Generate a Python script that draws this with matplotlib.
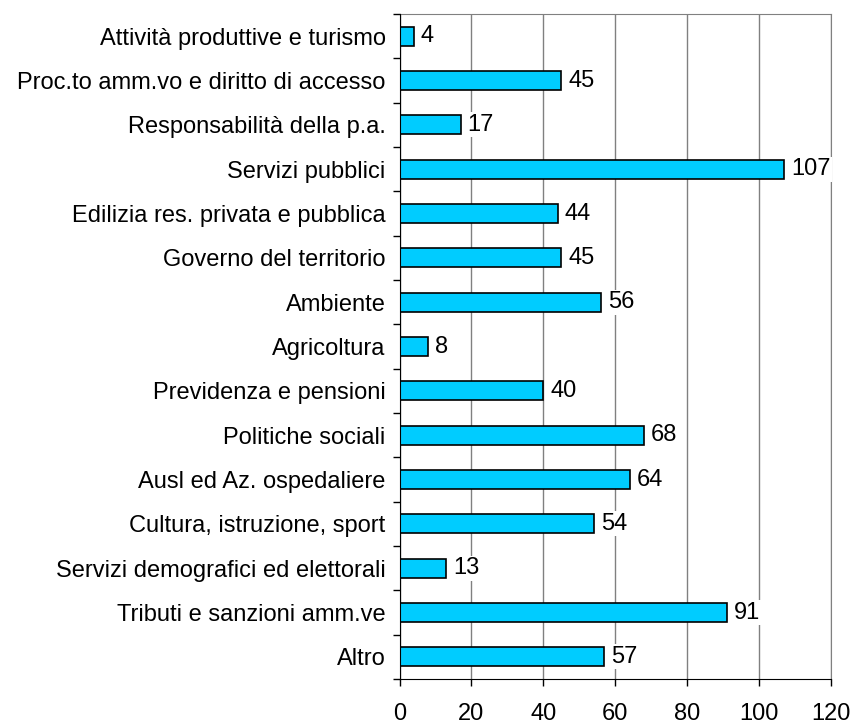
import matplotlib.pyplot as plt
import numpy as np

plt.rcParams['font.family'] = ['Liberation Sans', 'DejaVu Sans']

categorie = ['Attività produttive e turismo', 'Proc.to amm.vo e diritto di accesso',
             'Responsabilità della p.a.', 'Servizi pubblici',
             'Edilizia res. privata e pubblica', 'Governo del territorio',
             'Ambiente', 'Agricoltura', 'Previdenza e pensioni',
             'Politiche sociali', 'Ausl ed Az. ospedaliere',
             'Cultura, istruzione, sport', 'Servizi demografici ed elettorali',
             'Tributi e sanzioni amm.ve', 'Altro']
valori = [4, 45, 17, 107, 44, 45, 56, 8, 40, 68, 64, 54, 13, 91, 57]
xticks = [0, 20, 40, 60, 80, 100, 120]

fig = plt.figure(figsize=(8.54, 7.26), dpi=100)
ax = fig.add_axes([0.4678, 0.0647, 0.5053, 0.916])

y = np.arange(len(categorie))[::-1]
ax.bar_label(ax.barh(y, valori, height=0.43, color='#00CCFF', edgecolor='black',
                     linewidth=1.2, zorder=3),
             labels=[str(v) for v in valori], padding=5, fontsize=17,
             bbox=dict(facecolor='white', edgecolor='none', pad=1))

ax.set_xlim(0, 120)
ax.set_ylim(-0.5, len(categorie) - 0.5)
ax.set_xticks(xticks)
ax.set_xticklabels([str(t) for t in xticks], fontsize=17)
ax.set_yticks(y)
ax.set_yticklabels(categorie, fontsize=17)
ax.set_yticks(np.arange(-0.5, len(categorie), 1), minor=True)

ax.tick_params(axis='y', which='major', length=0, pad=10)
ax.tick_params(axis='y', which='minor', length=5, width=1, direction='out')
ax.tick_params(axis='x', length=5, width=1, direction='out', pad=12)

ax.grid(axis='x', color='#808080', linewidth=1, zorder=0)
for s in ['top', 'right']:
    ax.spines[s].set_color('#808080')
for s in ['left', 'bottom']:
    ax.spines[s].set_color('black')
    ax.spines[s].set_zorder(4)

fig.savefig('out.png', dpi=100)
